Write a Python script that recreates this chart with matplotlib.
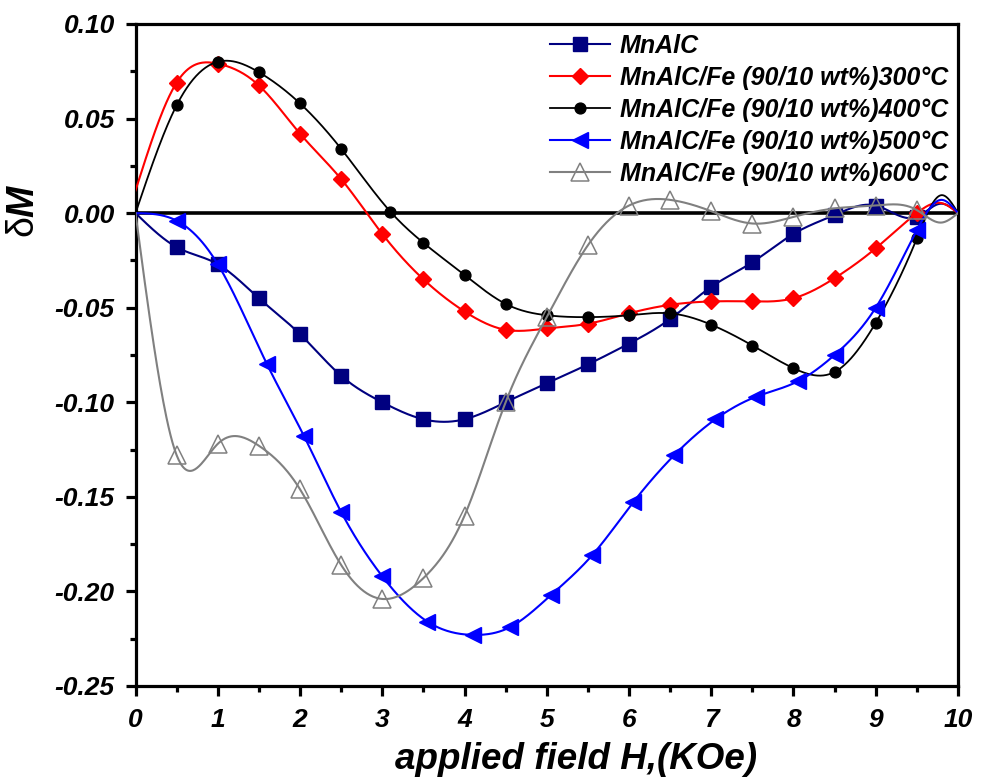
import numpy as np
import matplotlib
matplotlib.use('Agg')
import matplotlib.pyplot as plt
from matplotlib.ticker import MultipleLocator, FormatStrFormatter

plt.rcParams['font.family'] = ['Liberation Sans', 'DejaVu Sans']
plt.rcParams['axes.unicode_minus'] = False
plt.rcParams['mathtext.fontset'] = 'custom'
plt.rcParams['mathtext.rm'] = 'Liberation Sans'
plt.rcParams['mathtext.it'] = 'Liberation Sans:italic'
plt.rcParams['mathtext.bfit'] = 'Liberation Sans:bold:italic'

# field (KOe) and deltaM
# first point (0) and the last two (9.8, 10) are curve points without a marker
x_mnalc = [0, 0.5, 1, 1.5, 2, 2.5, 3, 3.5, 4, 4.5, 5, 5.5, 6, 6.5, 7, 7.5, 8, 8.5, 9, 9.5, 9.8, 10]
y_mnalc = [0, -0.018, -0.027, -0.045, -0.064, -0.086, -0.100, -0.109, -0.109, -0.100, -0.090,
           -0.080, -0.069, -0.056, -0.039, -0.026, -0.011, -0.001, 0.004, -0.002, 0.005, 0]

x_300 = [0, 0.5, 1, 1.5, 2, 2.5, 3, 3.5, 4, 4.5, 5, 5.5, 6, 6.5, 7, 7.5, 8, 8.5, 9, 9.5, 9.8, 10]
y_300 = [0.012, 0.069, 0.079, 0.0675, 0.042, 0.018, -0.011, -0.035, -0.052, -0.0617, -0.061,
         -0.0585, -0.053, -0.0485, -0.0467, -0.0467, -0.045, -0.0344, -0.0186, 0.0, 0.0053, 0]

x_400 = [0, 0.5, 1, 1.5, 2, 2.5, 3.1, 3.5, 4, 4.5, 5, 5.5, 6, 6.5, 7, 7.5, 8, 8.5, 9, 9.5, 9.8, 10]
y_400 = [0, 0.057, 0.080, 0.0745, 0.058, 0.034, 0.0007, -0.0157, -0.0327, -0.048, -0.054,
         -0.055, -0.054, -0.053, -0.059, -0.070, -0.082, -0.084, -0.058, -0.0134, 0.0095, 0]

x_500 = [0, 0.5, 1, 1.6, 2.05, 2.5, 3, 3.55, 4.1, 4.55, 5.05, 5.55, 6.05, 6.55, 7.05, 7.55,
         8.05, 8.5, 9, 9.5, 9.8, 10]
y_500 = [0, -0.004, -0.027, -0.080, -0.118, -0.158, -0.192, -0.216, -0.223, -0.219, -0.202,
         -0.181, -0.153, -0.128, -0.109, -0.097, -0.089, -0.075, -0.050, -0.009, 0.007, 0]

x_600 = [0, 0.5, 1, 1.5, 2, 2.5, 3, 3.5, 4, 4.5, 5, 5.5, 6, 6.5, 7, 7.5, 8, 8.5, 9, 9.5, 9.8, 10]
y_600 = [0, -0.128, -0.122, -0.123, -0.146, -0.186, -0.204, -0.193, -0.160, -0.100, -0.055,
         -0.017, 0.004, 0.007, 0.001, -0.0055, -0.002, 0.0025, 0.004, 0.0016, -0.005, 0]

labels = ['MnAlC',
          'MnAlC/Fe (90/10 wt%)300°C',
          'MnAlC/Fe (90/10 wt%)400°C',
          'MnAlC/Fe (90/10 wt%)500°C',
          'MnAlC/Fe (90/10 wt%)600°C']


def spline_line(x, y, per=40):
    # natural cubic spline (Origin-style "spline" connection)
    x = np.asarray(x, float)
    y = np.asarray(y, float)
    n = len(x)
    h = np.diff(x)
    A = np.zeros((n, n))
    r = np.zeros(n)
    A[0, 0] = A[-1, -1] = 1
    for i in range(1, n - 1):
        A[i, i - 1] = h[i - 1]
        A[i, i] = 2 * (h[i - 1] + h[i])
        A[i, i + 1] = h[i]
        r[i] = 6 * ((y[i + 1] - y[i]) / h[i] - (y[i] - y[i - 1]) / h[i - 1])
    M = np.linalg.solve(A, r)
    xs, ys, idx = [], [], []
    for j in range(n - 1):
        t = np.linspace(x[j], x[j + 1], per, endpoint=False)
        a = x[j + 1] - t
        b = t - x[j]
        s = (M[j] * a ** 3 + M[j + 1] * b ** 3) / (6 * h[j]) \
            + (y[j] / h[j] - M[j] * h[j] / 6) * a + (y[j + 1] / h[j] - M[j + 1] * h[j] / 6) * b
        idx.append(len(xs))
        xs.extend(t)
        ys.extend(s)
    xs.append(x[-1])
    ys.append(y[-1])
    # markers on data points 1 .. n-3
    return np.array(xs), np.array(ys), idx[1:n - 2]


fig = plt.figure(figsize=(9.87, 7.78), dpi=100)
ax = fig.add_axes([0.1373, 0.1183, 0.8333, 0.8509])

ax.axhline(0, color='black', lw=2.6, zorder=1.5)

series = [
    (x_mnalc, y_mnalc, dict(color='#000080', marker='s', ms=10, lw=1.5)),
    (x_300, y_300, dict(color='#ff0000', marker='D', ms=7.8, lw=1.5)),
    (x_400, y_400, dict(color='black', marker='o', ms=7.8, lw=1.3)),
    (x_500, y_500, dict(color='#0000ff', marker='<', ms=12, lw=1.5)),
    (x_600, y_600, dict(color='#808080', marker='^', ms=13.5, lw=1.5, mfc='none', mew=1.1)),
]
for (xv, yv, st), lab in zip(series, labels):
    xs, ys, marks = spline_line(xv, yv)
    ax.plot(xs, ys, markevery=marks, label=lab, zorder=3, **st)

ax.set_xlim(0, 10)
ax.set_ylim(-0.25, 0.10)
ax.xaxis.set_major_locator(MultipleLocator(1))
ax.xaxis.set_minor_locator(MultipleLocator(0.5))
ax.yaxis.set_major_locator(MultipleLocator(0.05))
ax.yaxis.set_minor_locator(MultipleLocator(0.025))
ax.yaxis.set_major_formatter(FormatStrFormatter('%.2f'))

for sp in ax.spines.values():
    sp.set_linewidth(2.3)
ax.tick_params(which='both', direction='out', width=2.3, top=False, right=False)
ax.tick_params(which='major', length=7)
ax.tick_params(which='minor', length=4)
ax.tick_params(axis='x', pad=9)
ax.tick_params(axis='y', pad=8)
for lab in ax.get_xticklabels() + ax.get_yticklabels():
    lab.set_fontsize(19)
    lab.set_fontweight('bold')
    lab.set_fontstyle('italic')

ax.set_xlabel('applied field H,(KOe)', fontsize=26.5, fontweight='bold', fontstyle='italic')
ax.xaxis.set_label_coords(0.536, -0.085)
ax.set_ylabel(r'δ$\mathbfit{M}$', fontsize=27, fontweight='normal')
ax.yaxis.set_label_coords(-0.114, 0.7175)

ax.legend(loc='upper right', bbox_to_anchor=(1.0, 1.0), borderaxespad=0, frameon=False,
          prop={'weight': 'bold', 'style': 'italic', 'size': 18},
          handlelength=2.4, handletextpad=0.4, labelspacing=0.32)

fig.savefig('out.png', dpi=100)
